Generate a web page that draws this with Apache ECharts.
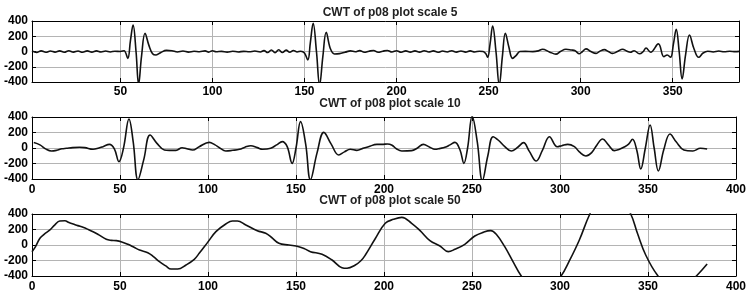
<!DOCTYPE html>
<html>
<head>
<meta charset="utf-8">
<script src="https://cdn.jsdelivr.net/npm/echarts@6/dist/echarts.min.js"></script>
<style>
  html, body { margin: 0; padding: 0; background: #fff; }
  #chart { width: 749px; height: 302px; }
</style>
</head>
<body>
<div id="chart"></div>
<script>
// titles and ticks
const titles = ['CWT of p08 plot scale 5', 'CWT of p08 plot scale 10', 'CWT of p08 plot scale 50']
const yTicks = [-400, -200, 0, 200, 400]
const xTicksFirst = [50, 100, 150, 200, 250, 300, 350]
const xTicksOther = [0, 50, 100, 150, 200, 250, 300, 350, 400]

// scale 5 coefficients, [sample, value]
const scale5 = [
  [2, 8], [4.5, -12], [7, 8], [9.5, -10], [12, 6], [14.5, -8], [17, 8], [19.5, -10], [22, 10], [24.5, -8],
  [27, 6], [29.5, -10], [32, 8], [34.5, -8], [37, 8], [39.5, -6], [42, 6], [44.5, -6], [47, 4], [50, 0],
  [52, 10], [54, -90], [55.5, 150], [56.9, 347], [58.5, 0], [59.9, -430], [61.5, -60], [63.4, 239], [65.5, 80], [67.5, -30],
  [69.4, -46], [72, -12], [75, 15], [78, 10], [81, -6], [84, 6], [87, -8], [90, 4], [93, -4], [96, 8],
  [98, -8], [100, 10], [102, -4], [105, 2], [108, -8], [111, 4], [114, -6], [117, 2], [120, -4], [123, 6],
  [126, -6], [128, 12], [130, -14], [132, 20], [134, -16], [136, 22], [138, -14], [140, 18], [142, -10], [144, 14],
  [146, -6], [148, 4], [150, -20], [151.8, -110], [153.2, 120], [154.7, 370], [156.5, 0], [158.2, -440], [160, -60], [161.8, 252],
  [164, 40], [166.3, -33], [169, -28], [172, -10], [175, 8], [177.5, -4], [180, 12], [182.5, -10], [185, 4], [187.5, 14],
  [190, -10], [192.5, 4], [195, 14], [197.5, -6], [200, 10], [202.5, -10], [205, 8], [207.5, -8], [210, 8], [212.5, -8],
  [215, 10], [217.5, -6], [220, 8], [222.5, -10], [225, 6], [227.5, -6], [230, 10], [232.5, -8], [235, 6], [237.5, -8],
  [240, 8], [242.5, -6], [245, 4], [247, 0], [248.5, -30], [249.5, -76], [250.8, 100], [252.2, 334], [254, 0], [255.8, -440],
  [257.5, -60], [259.1, 239], [261, 60], [263, -90], [265, -50], [267, 0], [270, 2], [274, -2], [277, 8], [279.3, 30],
  [283, -5], [286.6, -35], [289, 0], [292, 30], [295, 20], [297, 10], [299.3, -30], [301, 0], [302.9, 35], [305.5, 0],
  [308.4, -25], [310.5, 5], [312.9, 25], [315, 0], [317.4, -25], [320, 0], [322.8, 30], [325, 5], [327, -10], [329, 10],
  [331.9, -30], [334, 0], [335.5, 45], [338, -10], [342.2, 100], [345.2, -68], [347, -45], [348.8, -76], [350.4, 100], [351.9, 291],
  [353.5, 0], [355.1, -360], [357, -40], [359.1, 216], [361.5, 40], [364.1, -76], [366.5, -20], [369, 4], [372, -6], [375, 6],
  [378, -4], [381, 4], [384, -2], [386, 2]
]

// scale 10 coefficients
const scale10 = [
  [1, 70], [4.5, 40], [8, -15], [11, -39], [14, -30], [17, -10], [19.6, -4], [23, 5], [27, 9], [30, 5],
  [34.7, -17], [38, 0], [40.3, 17], [44, 47], [46.8, -10], [49.4, -176], [52, 0], [55.1, 374], [57.5, 80], [60.2, -410],
  [63.5, -150], [67.1, 168], [71, 60], [75.2, -26], [78, -30], [81.8, -30], [85.3, 4], [88, -10], [91.3, -26], [95, 17],
  [100.7, 73], [104, 40], [106.5, 4], [110.1, -39], [114, -30], [117.9, -17], [121, 10], [124.3, 30], [128, 5], [131, -17],
  [135.6, -4], [139, 40], [142.2, 82], [145, 17], [147.8, -198], [150, 0], [152.6, 340], [155.5, 50], [158.2, -410], [162, -60],
  [165.8, 202], [170, 50], [174.3, -90], [177.5, -50], [180.9, -17], [184.6, -30], [188, -5], [191.2, 17], [196, 47], [199, 47],
  [202, 52], [204.6, 35], [207, -10], [210.1, -39], [215.7, -34], [219, 0], [222.3, 47], [226, 10], [228.9, -17], [232, -5],
  [234.6, 9], [237.5, 40], [240.3, 73], [243.2, -26], [245.4, -198], [247.5, 0], [250.1, 410], [253, 80], [255.9, -420], [259, -100],
  [262, 146], [265, 100], [268.5, 20], [272.3, -39], [276, 10], [279.3, 69], [282.5, -40], [286.5, -168], [290, -30], [294, 146],
  [298.4, 17], [301, 30], [304.4, 47], [308.2, 17], [311, -50], [314.7, -103], [318, -60], [321, 40], [324.2, 116], [327.5, 40],
  [330.8, -34], [333.5, -20], [336.2, 9], [339, 50], [341.2, 112], [343.6, -26], [345.9, -271], [348.5, 0], [351.2, 297], [353.5, 0],
  [355.9, -297], [359, -20], [362.5, 181], [366, 80], [370.4, -26], [375.5, -39], [379.8, -4], [383.6, -13]
]

// scale 50 coefficients (goes off-scale around 290, 328 and 366)
const scale50 = [
  [0, -86], [2, -20], [4.5, 86], [7, 140], [10.2, 194], [13, 260], [15.8, 310], [18.7, 312], [21, 290], [23.4, 271],
  [26, 250], [29, 228], [32, 200], [34.7, 172], [38, 130], [42.2, 74], [45, 60], [47.9, 56], [51, 40], [54.5, 9],
  [58, -30], [61.1, -65], [65.8, -99], [69, -150], [72.4, -215], [76, -270], [79, -310], [82.8, -310], [87.5, -258], [92.2, -185],
  [95, -108], [99.8, 34], [104.5, 172], [110.1, 271], [113.9, 310], [116.7, 310], [121.5, 258], [128, 185], [132.8, 151], [136, 100],
  [140.3, 22], [146, 0], [151.6, -22], [155, -50], [158.2, -86], [164.8, -120], [170.5, -194], [176.1, -293], [179, -300], [183.7, -258],
  [187, -200], [189.4, -129], [195, 80], [200.7, 280], [205.4, 331], [210.1, 357], [215.7, 280], [220.5, 185], [226.1, 56], [231.8, -13],
  [236.5, -86], [240.3, -56], [245.9, 9], [251.6, 116], [256.3, 163], [260.6, 185], [263.8, 138], [268.6, -22], [273.3, -215], [278, -400],
  [289, -700], [300.6, -400], [305.3, -206], [311, 65], [316.7, 387], [328, 900], [340.2, 400], [344, 151], [348.7, -129], [355.3, -387],
  [366, -650], [377.9, -390], [383.6, -245]
]

const seriesData = [scale5, scale10, scale50]
const gridTops = [21, 117, 214]
const titleTops = [2, 93, 190]
const xRanges = [[2, 386], [0, 400], [0, 400]]
const labelFont = { fontFamily: 'Liberation Sans, Arial, sans-serif', fontWeight: 'bold', fontSize: 12, color: '#000' }
const gridColor = '#b4b4b4'

const chart = echarts.init(document.getElementById('chart'), null, { renderer: 'canvas' })

const grid = [], xAxis = [], yAxis = [], series = [], title = []

for (let i = 0; i < 3; i++) {
  const ticks = i === 0 ? xTicksFirst : xTicksOther
  title.push({
    text: titles[i],
    left: 385,
    top: titleTops[i],
    textAlign: 'center',
    textStyle: { fontFamily: 'Liberation Sans, Arial, sans-serif', fontWeight: 'bold', fontSize: 12, color: '#222' }
  })
  grid.push({ left: 32, right: 10, top: gridTops[i], height: i === 0 ? 61 : 62 })

  // bottom x axis with labels and grid lines
  xAxis.push({
    type: 'value', gridIndex: i, min: xRanges[i][0], max: xRanges[i][1],
    axisLine: { show: true, onZero: false, lineStyle: { color: '#000', width: 1 } },
    axisTick: { show: true, inside: true, length: 4, customValues: ticks, lineStyle: { color: '#000' } },
    axisLabel: { show: true, customValues: ticks, margin: i === 0 ? 4 : 5, ...labelFont, showMinLabel: true, showMaxLabel: true },
    splitLine: { show: true, lineStyle: { color: gridColor, width: 1 } }
  })
  // top x axis, box edge with inward ticks
  xAxis.push({
    type: 'value', gridIndex: i, position: 'top', min: xRanges[i][0], max: xRanges[i][1],
    axisLine: { show: true, onZero: false, lineStyle: { color: '#000', width: 1 } },
    axisTick: { show: true, inside: true, length: 4, customValues: ticks, lineStyle: { color: '#000' } },
    axisLabel: { show: false },
    splitLine: { show: false }
  })
  yAxis.push({
    type: 'value', gridIndex: i, min: -400, max: 400, interval: 200,
    axisLine: { show: true, onZero: false, lineStyle: { color: '#000', width: 1 } },
    axisTick: { show: true, inside: true, length: 4, lineStyle: { color: '#000' } },
    axisLabel: { show: true, margin: 4, ...labelFont },
    splitLine: { show: true, lineStyle: { color: gridColor, width: 1 } }
  })
  yAxis.push({
    type: 'value', gridIndex: i, position: 'right', min: -400, max: 400, interval: 200,
    axisLine: { show: true, onZero: false, lineStyle: { color: '#000', width: 1 } },
    axisTick: { show: true, inside: true, length: 4, lineStyle: { color: '#000' } },
    axisLabel: { show: false },
    splitLine: { show: false }
  })
  series.push({
    type: 'line',
    xAxisIndex: i * 2,
    yAxisIndex: i * 2,
    data: seriesData[i],
    smooth: 0.4,
    showSymbol: false,
    clip: true,
    lineStyle: { color: '#111', width: 1.6 },
    animation: false
  })
}

chart.setOption({
  backgroundColor: '#fff',
  animation: false,
  title,
  grid,
  xAxis,
  yAxis,
  series
})
</script>
</body>
</html>
